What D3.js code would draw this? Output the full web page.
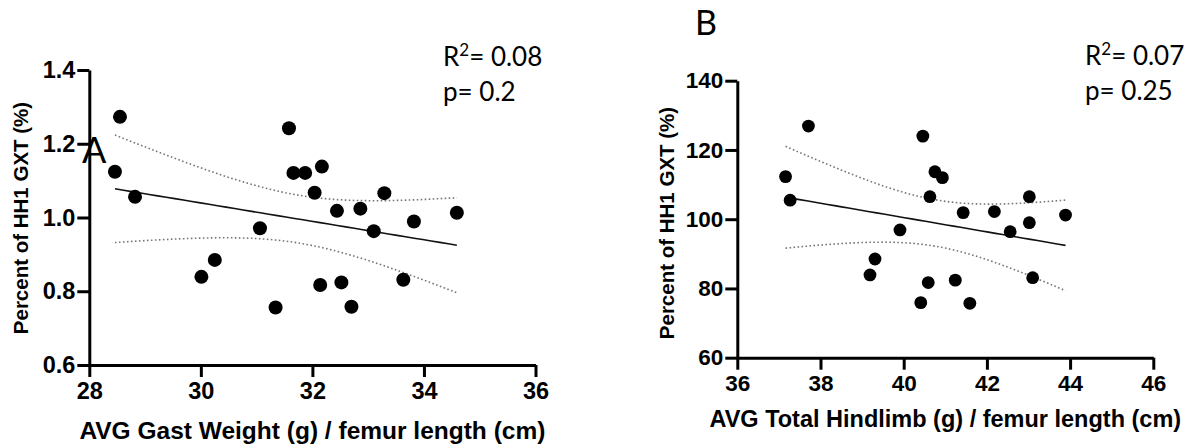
<!DOCTYPE html>
<html>
<head>
<meta charset="utf-8">
<title>Percent of HH1 GXT vs muscle weight</title>
<style>
  body { margin: 0; background: #fff; }
  svg { display: block; }
  .tick text { font-family: "Liberation Sans", Arial, sans-serif; font-weight: bold; fill: #000; }
  .ttl { font-family: "Liberation Sans", Arial, sans-serif; font-weight: bold; fill: #000; }
  .ann { font-family: Lato, "Open Sans", sans-serif; fill: #000; }
</style>
</head>
<body>
<svg id="fig" width="1190" height="448"></svg>
<script src="https://cdnjs.cloudflare.com/ajax/libs/d3/7.8.5/d3.min.js"></script>
<script>
// panel A: gast weight / femur length vs percent of HH1 GXT
var gastX = [28.55, 28.46, 28.82, 31.06, 30.25, 30.01, 31.58, 31.66, 31.87, 32.17, 32.04,
             32.44, 32.86, 33.29, 33.10, 33.82, 34.59, 32.14, 32.52, 33.63, 31.34, 32.70];
var gastY = [1.273, 1.124, 1.056, 0.971, 0.885, 0.839, 1.242, 1.121, 1.121, 1.138, 1.067,
             1.018, 1.024, 1.066, 0.963, 0.989, 1.013, 0.817, 0.824, 0.831, 0.756, 0.758];
var gastXTicks = [28, 30, 32, 34, 36];
var gastYTicks = [0.6, 0.8, 1.0, 1.2, 1.4];

// panel B: total hindlimb / femur length vs percent of HH1 GXT
var limbX = [37.71, 37.16, 37.27, 39.91, 39.31, 39.19, 40.46, 40.75, 40.93, 40.63, 40.59,
             40.41, 41.43, 42.18, 43.02, 43.02, 42.56, 43.89, 41.24, 41.59, 43.10];
var limbY = [126.9, 112.3, 105.5, 96.9, 88.5, 83.9, 124.0, 113.7, 112.0, 106.5, 81.7,
             75.9, 101.9, 102.2, 106.5, 99.0, 96.4, 101.2, 82.4, 75.7, 83.1];
var limbXTicks = [36, 38, 40, 42, 44, 46];
var limbYTicks = [60, 80, 100, 120, 140];

var yTitle = "Percent of HH1 GXT (%)";

var svg = d3.select('#fig');

// simple least squares fit plus 95% confidence band of the mean
function fit(xs, ys, tcrit) {
    var n = xs.length;
    var mx = d3.mean(xs), my = d3.mean(ys);
    var sxx = 0, sxy = 0;
    for (var i = 0; i < n; i++) {
        sxx += (xs[i] - mx) * (xs[i] - mx);
        sxy += (xs[i] - mx) * (ys[i] - my);
    }
    var b = sxy / sxx, a = my - b * mx;
    var sse = 0;
    for (var j = 0; j < n; j++) sse += Math.pow(ys[j] - (a + b * xs[j]), 2);
    var s = Math.sqrt(sse / (n - 2));
    var lo = d3.min(xs), hi = d3.max(xs);
    var pts = d3.range(0, 41).map(function (k) {
        var x = lo + (hi - lo) * k / 40;
        var yh = a + b * x;
        var half = tcrit * s * Math.sqrt(1 / n + (x - mx) * (x - mx) / sxx);
        return { x: x, y: yh, up: yh + half, dn: yh - half };
    });
    return pts;
}

function panel(opt) {
    var g = svg.append('g');
    var x = d3.scaleLinear().domain(opt.xDomain).range(opt.xRange);
    var y = d3.scaleLinear().domain(opt.yDomain).range(opt.yRange);

    var band = fit(opt.xs, opt.ys, opt.t);
    var mk = function (key) {
        return d3.line().x(function (d) { return x(d.x); }).y(function (d) { return y(d[key]); });
    };
    g.append('path').datum(band).attr('d', mk('up'))
        .attr('fill', 'none').attr('stroke', '#777').attr('stroke-width', 1.6).attr('stroke-dasharray', '1.6,2.4');
    g.append('path').datum(band).attr('d', mk('dn'))
        .attr('fill', 'none').attr('stroke', '#777').attr('stroke-width', 1.6).attr('stroke-dasharray', '1.6,2.4');
    g.append('path').datum(band).attr('d', mk('y'))
        .attr('fill', 'none').attr('stroke', '#111').attr('stroke-width', 1.6);

    g.selectAll('circle.dot')
        .data(opt.xs.map(function (v, i) { return [v, opt.ys[i]]; }))
        .enter().append('circle')
        .attr('class', 'dot')
        .attr('cx', function (d) { return x(d[0]); })
        .attr('cy', function (d) { return y(d[1]); })
        .attr('r', opt.r)
        .attr('fill', '#000');

    var xa = g.append('g').attr('transform', 'translate(0,' + opt.yRange[0] + ')')
        .call(d3.axisBottom(x).tickValues(opt.xTicks).tickSize(12).tickSizeOuter(0).tickPadding(5)
            .tickFormat(d3.format('d')));
    var ya = g.append('g').attr('transform', 'translate(' + opt.xRange[0] + ',0)')
        .call(d3.axisLeft(y).tickValues(opt.yTicks).tickSize(12).tickSizeOuter(0).tickPadding(2)
            .tickFormat(opt.yFmt));
    [xa, ya].forEach(function (a) {
        a.select('.domain').attr('stroke', '#000').attr('stroke-width', 3);
        a.selectAll('.tick line').attr('stroke', '#000').attr('stroke-width', 3);
        a.selectAll('.tick text').style('font-size', opt.tickSize + 'px');
    });

    g.append('text').attr('class', 'ttl')
        .attr('x', (opt.xRange[0] + opt.xRange[1]) / 2).attr('y', opt.xTitleY)
        .attr('text-anchor', 'middle').style('font-size', opt.titleSize + 'px')
        .text(opt.xTitle);
    g.append('text').attr('class', 'ttl')
        .attr('transform', 'translate(' + opt.yTitleX + ',' + opt.yTitleMid + ') rotate(-90)')
        .attr('text-anchor', 'middle').style('font-size', opt.yTitleSize + 'px')
        .text(yTitle);

    var r2 = g.append('text').attr('class', 'ann').attr('x', opt.annX).attr('y', opt.annY)
        .style('font-size', '26px');
    r2.append('tspan').text('R');
    r2.append('tspan').attr('baseline-shift', 'super').style('font-size', '17px').text('2');
    r2.append('tspan').text('= ' + opt.r2);
    g.append('text').attr('class', 'ann').attr('x', opt.annX).attr('y', opt.annY + 35)
        .style('font-size', '26px').text('p= ' + opt.p);
}

panel({
    xs: gastX, ys: gastY, t: 2.086,
    xDomain: [28, 36], xRange: [89.3, 535.5],
    yDomain: [0.6, 1.4], yRange: [365, 70],
    xTicks: gastXTicks, yTicks: gastYTicks,
    yFmt: d3.format('.1f'),
    r: 7, tickSize: 23.5, titleSize: 24.5, yTitleSize: 20.5,
    xTitle: 'AVG Gast Weight (g) / femur length (cm)', xTitleY: 439, yTitleX: 28, yTitleMid: 218,
    annX: 443, annY: 66, r2: '0.08', p: '0.2'
});

panel({
    xs: limbX, ys: limbY, t: 2.093,
    xDomain: [36, 46], xRange: [737.3, 1153.3],
    yDomain: [60, 140], yRange: [357.7, 80.7],
    xTicks: limbXTicks, yTicks: limbYTicks,
    yFmt: d3.format('d'),
    r: 6.4, tickSize: 22.5, titleSize: 23.5, yTitleSize: 20.5, yTitleMid: 223,
    xTitle: 'AVG Total Hindlimb (g) / femur length (cm)', xTitleY: 427, yTitleX: 674,
    annX: 1085, annY: 65, r2: '0.07', p: '0.25'
});

// panel letters
svg.append('text').attr('class', 'ann').attr('x', 82).attr('y', 163).style('font-size', '36px').text('A');
svg.append('text').attr('class', 'ann').attr('x', 695).attr('y', 35).style('font-size', '34px').text('B');
</script>
</body>
</html>
